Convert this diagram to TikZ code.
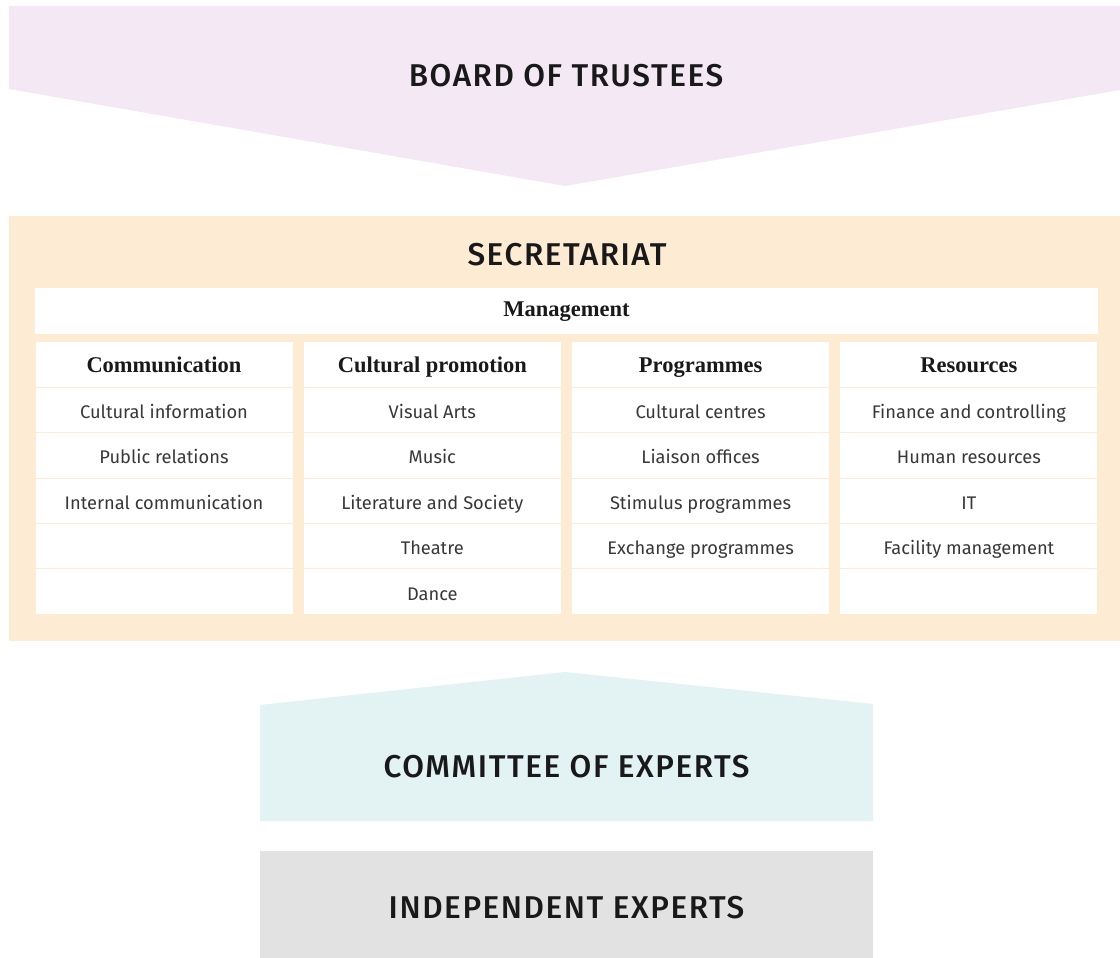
\documentclass[tikz,border=0pt]{standalone}
\usepackage{fontspec}
\setmainfont{Liberation Serif}
\newfontfamily\headfont{Fira Sans}
\newfontfamily\titlefont{Fira Sans Medium}[LetterSpace=5]
\definecolor{boardpink}{HTML}{F3E8F3}
\definecolor{secorange}{HTML}{FEEBD4}
\definecolor{committeeblue}{HTML}{E3F2F3}
\definecolor{expertgray}{HTML}{E2E2E2}
\definecolor{rowline}{HTML}{FCEBD8}

\begin{document}
\begin{tikzpicture}[x=0.025cm, y=-0.025cm,
    title/.style={font=\titlefont\fontsize{22.4}{26}\selectfont, text=black!90, anchor=base, inner sep=0pt},
    colhead/.style={font=\bfseries\fontsize{16}{19}\selectfont, text=black!90, anchor=base, inner sep=0pt},
    entry/.style={font=\headfont\fontsize{13}{16}\selectfont, text=black!78, anchor=base, inner sep=0pt}]
  \useasboundingbox (0,0) rectangle (1120,958);
  \fill[boardpink] (9,6) -- (1120,6) -- (1120,90) -- (565,186) -- (9,89) -- cycle;
  \node[title] (board) at (566,87) {BOARD OF TRUSTEES};
  \fill[secorange] (9,216) rectangle (1120,641);
  \node[title] (secretariat) at (567,266) {SECRETARIAT};
  \fill[white] (35,288) rectangle (1098,334);
  \node[colhead] (mgmt) at (566.5,317) {Management};
  \foreach \head/\items [count=\c from 0] in {
      {Communication}/{Cultural information,Public relations,Internal communication},
      {Cultural promotion}/{Visual Arts,Music,Literature and Society,Theatre,Dance},
      {Programmes}/{Cultural centres,Liaison offices,Stimulus programmes,Exchange programmes},
      {Resources}/{Finance and controlling,Human resources,IT,Facility management}}{
    \fill[white] ({35.5+268.3*\c},342) rectangle ++(257,272);
    \foreach \k in {0,...,4}
      \draw[rowline] ({35.5+268.3*\c},{387+45.4*\k}) -- ++(257,0);
    \node[colhead] (head\c) at ({164+268.3*\c},373) {\head};
    \foreach \sub [count=\r] in \items
      \node[entry] (item\c-\r) at ({164+268.3*\c},{373+45.4*\r}) {\sub};
  }
  \fill[committeeblue] (260,705) -- (565,672) -- (873,704) -- (873,821) -- (260,821) -- cycle;
  \node[title] (committee) at (566.5,777) {COMMITTEE OF EXPERTS};
  \fill[expertgray] (260,851) rectangle (873,958);
  \node[title] (experts) at (566.5,918) {INDEPENDENT EXPERTS};
\end{tikzpicture}
\end{document}
